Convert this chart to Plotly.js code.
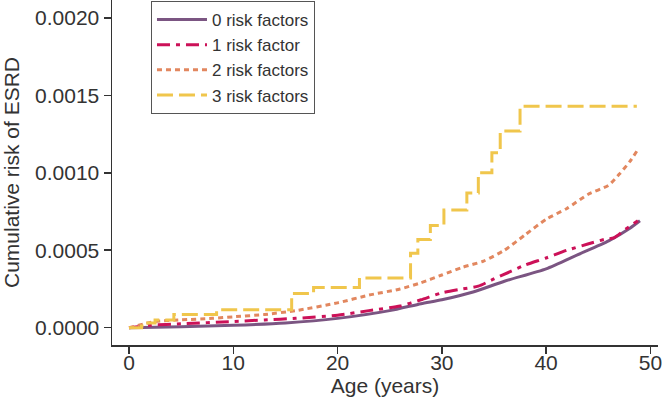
<!DOCTYPE html>
<html>
<head>
<meta charset="utf-8">
<script src="https://cdn.plot.ly/plotly-3.0.1.min.js"></script>
<style>
  html, body { margin: 0; padding: 0; background: #fff; }
  #chart { width: 663px; height: 402px; }
</style>
</head>
<body>
<div id="chart"></div>
<script>
// Series names
const seriesNames = ["0 risk factors", "1 risk factor", "2 risk factors", "3 risk factors"];

// 0 risk factors
const ages0 = [0, 5, 10, 15, 20, 25, 28, 30, 33, 36, 40, 43, 46, 48, 49];
const vals0 = [0, 0.000006, 0.000015, 0.00003, 0.00006, 0.00011, 0.000155, 0.00018, 0.00023, 0.0003, 0.00038, 0.00047, 0.00056, 0.00064, 0.00069];

// 1 risk factor
const ages1 = [0, 2, 5, 10, 13, 16, 20, 23, 26, 28, 30, 32, 33.5, 35, 36.6, 38, 40, 42, 44, 45.6, 46.5, 47.5, 48.8];
const vals1 = [0, 0.000015, 0.000025, 0.00004, 0.00005, 0.00006, 0.00008, 0.00011, 0.00014, 0.00018, 0.000225, 0.00025, 0.000268, 0.000315, 0.000363, 0.000405, 0.00045, 0.0005, 0.00054, 0.00057, 0.00058, 0.00063, 0.00069];

// 2 risk factors
const ages2 = [0, 2.5, 5, 8, 10, 13, 16, 20, 23, 26, 28, 30, 32, 34, 36, 38, 40, 42, 44, 46, 47, 48, 48.8];
const vals2 = [0, 0.00004, 0.00005, 0.00006, 0.00007, 0.000085, 0.00011, 0.00016, 0.00021, 0.00025, 0.00029, 0.00034, 0.00039, 0.00043, 0.0005, 0.0006, 0.0007, 0.00077, 0.00086, 0.00092, 0.00099, 0.00107, 0.00115];

// 3 risk factors (step function)
const ages3 = [0, 1.2, 1.8, 2.5, 4.3, 8.4, 15.6, 17.7, 22.1, 27.0, 27.7, 28.9, 30.2, 32.4, 33.5, 34.8, 35.6, 37.5, 48.7];
const vals3 = [0, 0.00001, 0.00003, 0.00005, 0.000085, 0.000115, 0.00022, 0.00026, 0.00032, 0.00048, 0.00057, 0.00066, 0.00076, 0.00087, 0.001, 0.00113, 0.00127, 0.00143, 0.00143];

// Axis ticks
const xTickVals = [0, 10, 20, 30, 40, 50];
const yTickVals = [0, 0.0005, 0.001, 0.0015, 0.002];
const yTickText = ["0.0000", "0.0005", "0.0010", "0.0015", "0.0020"];

const FONT = "Liberation Sans, Arial, Helvetica, sans-serif";

const traces = [
  { x: ages0, y: vals0, name: seriesNames[0], mode: "lines",
    line: { color: "#7b5582", width: 3, shape: "spline", smoothing: 0.6 } },
  { x: ages1, y: vals1, name: seriesNames[1], mode: "lines",
    line: { color: "#cc1158", width: 3, dash: "13px,6px,4px,6px", shape: "spline", smoothing: 0.6 } },
  { x: ages2, y: vals2, name: seriesNames[2], mode: "lines",
    line: { color: "#e2875f", width: 3, dash: "5px,4px", shape: "spline", smoothing: 0.6 } },
  { x: ages3, y: vals3, name: seriesNames[3], mode: "lines",
    line: { color: "#f0c64c", width: 3, dash: "16px,6px", shape: "hv" } }
];

const layout = {
  width: 663, height: 402,
  margin: { l: 112, r: 5, t: 0, b: 57, pad: 0 },
  paper_bgcolor: "#fff", plot_bgcolor: "#fff",
  font: { family: FONT, size: 21, color: "#333" },
  showlegend: true,
  legend: {
    x: 0.0714, y: 0.997, xanchor: "left", yanchor: "top",
    bgcolor: "#fff", bordercolor: "#555", borderwidth: 1,
    font: { family: FONT, size: 17, color: "#333" },
    itemwidth: 50, tracegroupgap: 0
  },
  shapes: [
    { type: "rect", xref: "paper", yref: "paper", layer: "above",
      x0: 0.0769, x1: 0.370, y0: 0.680, y1: 0.988,
      fillcolor: "rgba(140,140,140,0.35)", line: { width: 0 } }
  ],
  xaxis: {
    range: [-1.63, 50.73], tickvals: xTickVals, ticks: "outside", ticklen: 7,
    tickwidth: 1.5, tickcolor: "#333", showline: true, linecolor: "#333", linewidth: 1.5,
    showgrid: false, zeroline: false, tickfont: { size: 21, color: "#333" },
    ticklabelstandoff: -9,
    title: { text: "Age (years)", font: { size: 21, color: "#333" }, standoff: 5 }
  },
  yaxis: {
    range: [-0.000112, 0.002116], tickvals: yTickVals, ticktext: yTickText, ticks: "outside", ticklen: 7,
    tickwidth: 1.5, tickcolor: "#333", showline: true, linecolor: "#333", linewidth: 1.5,
    showgrid: false, zeroline: false, tickfont: { size: 21, color: "#333" },
    title: { text: "Cumulative risk of ESRD", font: { size: 21, color: "#333" }, standoff: 10 }
  }
};

Plotly.newPlot("chart", traces, layout, { displayModeBar: false, staticPlot: true });
</script>
</body>
</html>
